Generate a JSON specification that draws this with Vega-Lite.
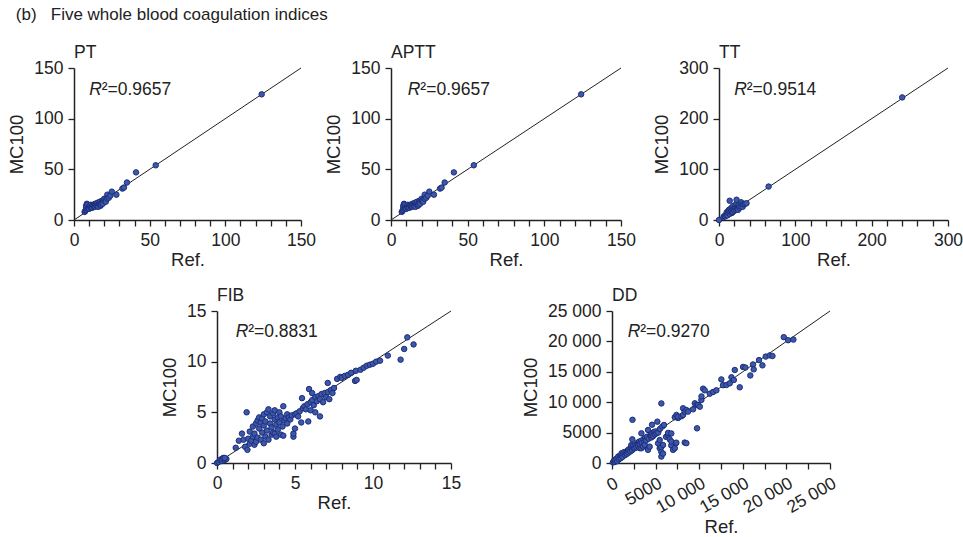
{
  "$schema": "https://vega.github.io/schema/vega-lite/v6.json",
  "padding": {"left": 7, "top": 5, "right": 5, "bottom": 2},
  "background": "white",
  "title": {"text": "(b)\u00a0\u00a0\u00a0Five whole blood coagulation indices", "anchor": "start", "frame": "bounds", "fontSize": 17, "fontWeight": "normal", "font": "Liberation Sans", "color": "#222", "dx": 8, "offset": 20},
  "config": {
    "view": {"stroke": null},
    "font": "Liberation Sans",
    "axis": {"grid": false, "domainColor": "#222", "domainWidth": 1.5, "tickColor": "#222", "tickWidth": 1.3, "tickSize": 6, "labelFont": "Liberation Sans", "labelFontSize": 17.5, "labelColor": "#222", "labelPadding": 5, "titleFont": "Liberation Sans", "titleFontSize": 18.5, "titleFontWeight": "normal", "titleColor": "#222", "labelOverlap": false, "labelFlush": false},
    "axisX": {"titlePadding": 2},
    "axisY": {"titlePadding": 7},
    "title": {"font": "Liberation Sans", "fontSize": 17.5, "fontWeight": "normal", "color": "#222", "anchor": "start", "frame": "group", "offset": -2}
  },
  "datasets": {
    "PT": [
      {"ref":7,"mc100":8},{"ref":7.5,"mc100":9},{"ref":8,"mc100":10},{"ref":8,"mc100":12},{"ref":8,"mc100":14},{"ref":8.5,"mc100":16},{"ref":9,"mc100":15},{"ref":9,"mc100":11},{"ref":9.5,"mc100":12},{"ref":10,"mc100":13},{"ref":10,"mc100":11},{"ref":10.5,"mc100":14},{"ref":11,"mc100":12},{"ref":11,"mc100":15},{"ref":11.5,"mc100":13},{"ref":12,"mc100":14},{"ref":12,"mc100":12},{"ref":12.5,"mc100":15},{"ref":13,"mc100":13},{"ref":13,"mc100":15},{"ref":13.5,"mc100":14},{"ref":14,"mc100":16},{"ref":14,"mc100":13},{"ref":14.5,"mc100":15},{"ref":15,"mc100":16},{"ref":15,"mc100":14},{"ref":15.5,"mc100":17},{"ref":16,"mc100":15},{"ref":16,"mc100":13},{"ref":16.5,"mc100":16},{"ref":17,"mc100":16},{"ref":17,"mc100":18},{"ref":17.5,"mc100":14},{"ref":18,"mc100":17},{"ref":18,"mc100":15},{"ref":18.5,"mc100":19},{"ref":19,"mc100":18},{"ref":19,"mc100":16},{"ref":20,"mc100":19},{"ref":20,"mc100":21},{"ref":21,"mc100":20},{"ref":21,"mc100":18},{"ref":22,"mc100":25},{"ref":22,"mc100":21},{"ref":23,"mc100":22},{"ref":24,"mc100":24},{"ref":25,"mc100":28},{"ref":28,"mc100":25},{"ref":32,"mc100":31},{"ref":33,"mc100":32},{"ref":35,"mc100":37},{"ref":41,"mc100":47},{"ref":54,"mc100":54},{"ref":124,"mc100":124}
    ],
    "TT": [
      {"ref":0,"mc100":0},{"ref":6,"mc100":6},{"ref":7,"mc100":8},{"ref":8,"mc100":7},{"ref":9,"mc100":10},{"ref":10,"mc100":12},{"ref":10,"mc100":15},{"ref":11,"mc100":9},{"ref":12,"mc100":14},{"ref":12,"mc100":18},{"ref":13,"mc100":20},{"ref":14,"mc100":38},{"ref":14,"mc100":12},{"ref":15,"mc100":16},{"ref":15,"mc100":22},{"ref":16,"mc100":18},{"ref":17,"mc100":14},{"ref":17,"mc100":25},{"ref":18,"mc100":20},{"ref":18,"mc100":16},{"ref":19,"mc100":22},{"ref":19,"mc100":28},{"ref":20,"mc100":18},{"ref":21,"mc100":24},{"ref":22,"mc100":20},{"ref":22,"mc100":30},{"ref":23,"mc100":40},{"ref":24,"mc100":26},{"ref":24,"mc100":22},{"ref":25,"mc100":28},{"ref":25,"mc100":20},{"ref":26,"mc100":30},{"ref":27,"mc100":24},{"ref":28,"mc100":27},{"ref":29,"mc100":35},{"ref":30,"mc100":30},{"ref":31,"mc100":26},{"ref":32,"mc100":31},{"ref":34,"mc100":32},{"ref":36,"mc100":33},{"ref":65,"mc100":66},{"ref":240,"mc100":242}
    ],
    "FIB": [
      {"ref":0,"mc100":0},{"ref":0.1,"mc100":0.1},{"ref":0.2,"mc100":0.3},{"ref":0.3,"mc100":0.2},{"ref":0.3,"mc100":0.4},{"ref":0.4,"mc100":0.5},{"ref":0.5,"mc100":0.3},{"ref":0.6,"mc100":0.4},{"ref":0.5,"mc100":0.5},
      {"ref":1.2,"mc100":1.5},{"ref":1.4,"mc100":2.2},{"ref":1.6,"mc100":2.9},{"ref":1.7,"mc100":2.3},{"ref":1.8,"mc100":1.6},{"ref":1.9,"mc100":5.0},{"ref":1.95,"mc100":1.3},{"ref":2.0,"mc100":2.4},{"ref":2.1,"mc100":1.9},{"ref":2.1,"mc100":3.1},{"ref":2.2,"mc100":2.2},{"ref":2.3,"mc100":2.6},{"ref":2.3,"mc100":3.6},{"ref":2.4,"mc100":1.8},{"ref":2.4,"mc100":2.9},{"ref":2.5,"mc100":3.9},{"ref":2.5,"mc100":2.1},{"ref":2.6,"mc100":4.2},{"ref":2.6,"mc100":2.5},{"ref":2.7,"mc100":3.4},{"ref":2.7,"mc100":4.5},{"ref":2.8,"mc100":2.3},{"ref":2.8,"mc100":4.0},{"ref":2.9,"mc100":3.0},{"ref":2.9,"mc100":4.4},{"ref":3.0,"mc100":1.95},{"ref":3.0,"mc100":3.7},{"ref":3.0,"mc100":4.8},{"ref":3.1,"mc100":2.6},{"ref":3.1,"mc100":4.1},{"ref":3.2,"mc100":3.2},{"ref":3.2,"mc100":5.0},{"ref":3.3,"mc100":5.3},{"ref":3.3,"mc100":2.3},{"ref":3.4,"mc100":3.9},{"ref":3.4,"mc100":4.6},{"ref":3.5,"mc100":2.8},{"ref":3.5,"mc100":3.5},{"ref":3.6,"mc100":4.9},{"ref":3.6,"mc100":3.0},{"ref":3.7,"mc100":4.3},{"ref":3.7,"mc100":5.2},{"ref":3.7,"mc100":2.9},{"ref":3.8,"mc100":2.6},{"ref":3.8,"mc100":3.8},{"ref":3.9,"mc100":4.5},{"ref":3.9,"mc100":3.3},{"ref":4.0,"mc100":5.0},{"ref":4.0,"mc100":4.0},{"ref":4.1,"mc100":4.6},{"ref":4.1,"mc100":2.8},{"ref":4.2,"mc100":3.6},{"ref":4.25,"mc100":5.6},{"ref":4.25,"mc100":2.7},{"ref":4.3,"mc100":4.2},{"ref":4.4,"mc100":4.4},{"ref":4.5,"mc100":3.9},{"ref":4.5,"mc100":4.8},{"ref":4.6,"mc100":4.5},{"ref":4.7,"mc100":4.3},{"ref":4.8,"mc100":4.7},{"ref":4.9,"mc100":2.6},{"ref":4.9,"mc100":2.9},{"ref":5.0,"mc100":3.4},{"ref":5.0,"mc100":4.8},{"ref":5.1,"mc100":4.9},{"ref":5.2,"mc100":4.6},{"ref":5.3,"mc100":5.1},{"ref":5.45,"mc100":6.4},{"ref":5.4,"mc100":4.0},{"ref":5.5,"mc100":5.4},{"ref":5.6,"mc100":5.6},{"ref":5.7,"mc100":5.3},{"ref":5.85,"mc100":4.1},{"ref":5.8,"mc100":5.8},{"ref":5.9,"mc100":7.3},{"ref":6.0,"mc100":6.0},{"ref":6.0,"mc100":5.2},{"ref":6.1,"mc100":6.2},{"ref":6.1,"mc100":6.9},{"ref":6.2,"mc100":5.7},{"ref":6.3,"mc100":6.5},{"ref":6.3,"mc100":5.0},{"ref":6.4,"mc100":6.1},{"ref":6.5,"mc100":6.6},{"ref":6.6,"mc100":4.6},{"ref":6.6,"mc100":6.3},{"ref":6.7,"mc100":6.8},{"ref":6.8,"mc100":6.0},{"ref":6.9,"mc100":6.9},{"ref":7.0,"mc100":6.5},{"ref":7.1,"mc100":7.9},{"ref":7.1,"mc100":7.0},{"ref":7.2,"mc100":6.3},{"ref":7.3,"mc100":7.2},{"ref":7.4,"mc100":6.9},{"ref":7.5,"mc100":7.4},{"ref":7.7,"mc100":8.3},{"ref":7.9,"mc100":8.5},{"ref":8.0,"mc100":8.4},{"ref":8.2,"mc100":8.6},{"ref":8.4,"mc100":8.7},{"ref":8.6,"mc100":8.9},{"ref":8.85,"mc100":8.1},{"ref":8.95,"mc100":8.2},{"ref":8.9,"mc100":9.1},{"ref":9.2,"mc100":9.2},{"ref":9.4,"mc100":9.4},{"ref":9.6,"mc100":9.6},{"ref":9.8,"mc100":9.7},{"ref":10.0,"mc100":9.8},{"ref":10.2,"mc100":10.0},{"ref":10.45,"mc100":10.1},{"ref":10.95,"mc100":10.6},{"ref":11.77,"mc100":10.2},{"ref":12.0,"mc100":11.25},{"ref":12.2,"mc100":12.4},{"ref":12.6,"mc100":11.7}
    ],
    "DD": [
      {"ref":100,"mc100":100},{"ref":200,"mc100":300},{"ref":300,"mc100":150},{"ref":300,"mc100":500},{"ref":400,"mc100":400},{"ref":500,"mc100":700},{"ref":600,"mc100":300},{"ref":700,"mc100":1050},{"ref":800,"mc100":600},{"ref":900,"mc100":1200},{"ref":1000,"mc100":800},{"ref":1070,"mc100":1320},{"ref":1100,"mc100":1600},{"ref":1200,"mc100":1000},{"ref":1300,"mc100":1500},{"ref":1400,"mc100":1800},{"ref":1500,"mc100":1300},{"ref":1600,"mc100":1700},{"ref":1700,"mc100":1500},{"ref":1800,"mc100":2000},{"ref":1840,"mc100":2140},{"ref":1900,"mc100":1700},{"ref":2000,"mc100":2300},{"ref":2100,"mc100":1900},{"ref":2200,"mc100":2600},{"ref":2220,"mc100":2960},{"ref":2300,"mc100":2100},{"ref":2330,"mc100":3890},{"ref":2350,"mc100":7100},{"ref":2400,"mc100":2800},{"ref":2500,"mc100":2400},{"ref":2600,"mc100":2420},{"ref":2700,"mc100":3000},{"ref":2800,"mc100":2600},{"ref":2900,"mc100":3300},{"ref":2980,"mc100":3230},{"ref":3000,"mc100":2800},{"ref":3100,"mc100":3500},{"ref":3170,"mc100":2440},{"ref":3200,"mc100":3100},{"ref":3300,"mc100":3600},{"ref":3370,"mc100":2420},{"ref":3370,"mc100":4880},{"ref":3400,"mc100":3300},{"ref":3550,"mc100":2710},{"ref":3600,"mc100":3900},{"ref":3700,"mc100":3400},{"ref":3750,"mc100":2960},{"ref":3800,"mc100":4100},{"ref":3900,"mc100":3700},{"ref":4000,"mc100":4300},{"ref":4100,"mc100":2300},{"ref":4130,"mc100":5430},{"ref":4130,"mc100":2160},{"ref":4200,"mc100":4000},{"ref":4320,"mc100":2690},{"ref":4400,"mc100":4600},{"ref":4500,"mc100":4200},{"ref":4510,"mc100":4600},{"ref":4590,"mc100":6300},{"ref":4600,"mc100":4900},{"ref":4700,"mc100":4400},{"ref":4800,"mc100":5100},{"ref":4900,"mc100":4700},{"ref":5000,"mc100":5200},{"ref":5100,"mc100":4870},{"ref":5200,"mc100":6800},{"ref":5280,"mc100":3230},{"ref":5300,"mc100":5000},{"ref":5470,"mc100":3780},{"ref":5470,"mc100":2440},{"ref":5500,"mc100":5600},{"ref":5660,"mc100":9800},{"ref":5660,"mc100":2630},{"ref":5660,"mc100":1810},{"ref":5660,"mc100":1050},{"ref":5770,"mc100":6000},{"ref":5850,"mc100":1550},{"ref":5850,"mc100":2960},{"ref":5960,"mc100":6250},{"ref":6200,"mc100":4300},{"ref":6420,"mc100":4590},{"ref":6430,"mc100":4950},{"ref":6620,"mc100":3890},{"ref":6800,"mc100":4860},{"ref":6800,"mc100":2890},{"ref":6810,"mc100":3540},{"ref":7000,"mc100":2160},{"ref":7200,"mc100":2440},{"ref":7310,"mc100":3260},{"ref":7380,"mc100":3340},{"ref":7200,"mc100":7520},{"ref":7390,"mc100":7900},{"ref":7580,"mc100":7400},{"ref":7570,"mc100":7630},{"ref":7960,"mc100":7680},{"ref":8150,"mc100":7900},{"ref":8150,"mc100":9000},{"ref":8340,"mc100":8450},{"ref":8340,"mc100":3360},{"ref":8530,"mc100":8720},{"ref":8530,"mc100":3260},{"ref":8720,"mc100":8450},{"ref":9300,"mc100":8830},{"ref":9500,"mc100":9820},{"ref":9690,"mc100":9550},{"ref":9750,"mc100":5700},{"ref":9870,"mc100":9550},{"ref":10070,"mc100":9270},{"ref":10250,"mc100":10360},{"ref":10260,"mc100":10950},{"ref":10450,"mc100":12230},{"ref":10640,"mc100":11950},{"ref":11210,"mc100":11400},{"ref":11590,"mc100":11680},{"ref":11970,"mc100":11950},{"ref":12540,"mc100":13750},{"ref":12730,"mc100":12800},{"ref":13120,"mc100":12830},{"ref":13500,"mc100":13100},{"ref":13700,"mc100":14100},{"ref":13970,"mc100":13650},{"ref":14080,"mc100":15300},{"ref":14650,"mc100":12450},{"ref":15030,"mc100":15800},{"ref":15300,"mc100":15700},{"ref":15860,"mc100":14400},{"ref":16170,"mc100":16200},{"ref":16250,"mc100":15400},{"ref":16860,"mc100":16930},{"ref":17250,"mc100":16060},{"ref":17630,"mc100":17500},{"ref":18100,"mc100":17700},{"ref":18400,"mc100":17600},{"ref":19700,"mc100":20700},{"ref":20200,"mc100":20200},{"ref":20800,"mc100":20300}
    ],
    "diag150": [{"ref":0,"mc100":0},{"ref":150,"mc100":150}],
    "diag300": [{"ref":0,"mc100":0},{"ref":300,"mc100":300}],
    "diag15": [{"ref":0,"mc100":0},{"ref":15,"mc100":15}],
    "diag25000": [{"ref":0,"mc100":0},{"ref":25000,"mc100":25000}],
    "lblPT": [{"r": "R", "rest": "\u00b2=0.9657"}],
    "lblTT": [{"r": "R", "rest": "\u00b2=0.9514"}],
    "lblFIB": [{"r": "R", "rest": "\u00b2=0.8831"}],
    "lblDD": [{"r": "R", "rest": "\u00b2=0.9270"}],
    "none": []
  },
  "vconcat": [
    {
      "hconcat": [
        {
          "width": 227, "height": 152,
          "title": "PT",
          "layer": [
            {"data": {"name": "diag150"}, "mark": {"type": "line", "color": "#222", "strokeWidth": 1},
             "encoding": {
               "x": {"field": "ref", "type": "quantitative", "title": "Ref.", "scale": {"domain": [0,150], "nice": false}, "axis": {"labelOverlap": false, "values": [0,10,20,30,40,50,60,70,80,90,100,110,120,130,140,150], "labelExpr": "datum.value % 50 === 0 ? datum.label : ''"}},
               "y": {"field": "mc100", "type": "quantitative", "title": "MC100", "scale": {"domain": [0,150], "nice": false}, "axis": {"labelOverlap": false, "values": [0,50,100,150]}}
             }},
            {"data": {"name": "PT"}, "mark": {"type": "circle", "size": 30, "fill": "#3d58a8", "stroke": "#1c2e7c", "strokeWidth": 1, "opacity": 1},
             "encoding": {
               "x": {"field": "ref", "type": "quantitative", "title": "Ref.", "axis": {"labelOverlap": false, "values": [0,10,20,30,40,50,60,70,80,90,100,110,120,130,140,150], "labelExpr": "datum.value % 50 === 0 ? datum.label : ''"}},
               "y": {"field": "mc100", "type": "quantitative", "title": "MC100", "axis": {"labelOverlap": false, "values": [0,50,100,150]}}
             }},
            {"data": {"name": "lblPT"}, "mark": {"type": "text", "fontStyle": "italic", "fontSize": 17.5, "align": "left", "baseline": "middle", "color": "#222"},
             "encoding": {
               "x": {"datum": 10, "type": "quantitative", "title": "Ref.", "axis": {"labelOverlap": false, "values": [0,10,20,30,40,50,60,70,80,90,100,110,120,130,140,150], "labelExpr": "datum.value % 50 === 0 ? datum.label : ''"}},
               "y": {"datum": 128, "type": "quantitative", "title": "MC100", "axis": {"labelOverlap": false, "values": [0,50,100,150]}},
               "text": {"field": "r"}}},
            {"data": {"name": "lblPT"}, "mark": {"type": "text", "fontSize": 17.5, "align": "left", "baseline": "middle", "dx": 12.5, "color": "#222"},
             "encoding": {
               "x": {"datum": 10, "type": "quantitative", "title": "Ref.", "axis": {"labelOverlap": false, "values": [0,10,20,30,40,50,60,70,80,90,100,110,120,130,140,150], "labelExpr": "datum.value % 50 === 0 ? datum.label : ''"}},
               "y": {"datum": 128, "type": "quantitative", "title": "MC100", "axis": {"labelOverlap": false, "values": [0,50,100,150]}},
               "text": {"field": "rest"}}}
          ]
        },
        {
          "hconcat": [
            {
              "width": 230, "height": 152,
              "title": "APTT",
              "layer": [
                {"data": {"name": "diag150"}, "mark": {"type": "line", "color": "#222", "strokeWidth": 1},
                 "encoding": {
                   "x": {"field": "ref", "type": "quantitative", "title": "Ref.", "scale": {"domain": [0,150], "nice": false}, "axis": {"labelOverlap": false, "values": [0,10,20,30,40,50,60,70,80,90,100,110,120,130,140,150], "labelExpr": "datum.value % 50 === 0 ? datum.label : ''"}},
                   "y": {"field": "mc100", "type": "quantitative", "title": "MC100", "scale": {"domain": [0,150], "nice": false}, "axis": {"labelOverlap": false, "values": [0,50,100,150]}}
                 }},
                {"data": {"name": "PT"}, "mark": {"type": "circle", "size": 30, "fill": "#3d58a8", "stroke": "#1c2e7c", "strokeWidth": 1, "opacity": 1},
                 "encoding": {
                   "x": {"field": "ref", "type": "quantitative", "title": "Ref.", "axis": {"labelOverlap": false, "values": [0,10,20,30,40,50,60,70,80,90,100,110,120,130,140,150], "labelExpr": "datum.value % 50 === 0 ? datum.label : ''"}},
                   "y": {"field": "mc100", "type": "quantitative", "title": "MC100", "axis": {"labelOverlap": false, "values": [0,50,100,150]}}
                 }},
                {"data": {"name": "lblPT"}, "mark": {"type": "text", "fontStyle": "italic", "fontSize": 17.5, "align": "left", "baseline": "middle", "color": "#222"},
                 "encoding": {
                   "x": {"datum": 11, "type": "quantitative", "title": "Ref.", "axis": {"labelOverlap": false, "values": [0,10,20,30,40,50,60,70,80,90,100,110,120,130,140,150], "labelExpr": "datum.value % 50 === 0 ? datum.label : ''"}},
                   "y": {"datum": 128, "type": "quantitative", "title": "MC100", "axis": {"labelOverlap": false, "values": [0,50,100,150]}},
                   "text": {"field": "r"}}},
                {"data": {"name": "lblPT"}, "mark": {"type": "text", "fontSize": 17.5, "align": "left", "baseline": "middle", "dx": 12.5, "color": "#222"},
                 "encoding": {
                   "x": {"datum": 11, "type": "quantitative", "title": "Ref.", "axis": {"labelOverlap": false, "values": [0,10,20,30,40,50,60,70,80,90,100,110,120,130,140,150], "labelExpr": "datum.value % 50 === 0 ? datum.label : ''"}},
                   "y": {"datum": 128, "type": "quantitative", "title": "MC100", "axis": {"labelOverlap": false, "values": [0,50,100,150]}},
                   "text": {"field": "rest"}}}
              ]
            },
            {
              "width": 229, "height": 152,
              "title": "TT",
              "layer": [
                {"data": {"name": "diag300"}, "mark": {"type": "line", "color": "#222", "strokeWidth": 1},
                 "encoding": {
                   "x": {"field": "ref", "type": "quantitative", "title": "Ref.", "scale": {"domain": [0,300], "nice": false}, "axis": {"labelOverlap": false, "values": [0,20,40,60,80,100,120,140,160,180,200,220,240,260,280,300], "labelExpr": "datum.value % 100 === 0 ? datum.label : ''"}},
                   "y": {"field": "mc100", "type": "quantitative", "title": "MC100", "scale": {"domain": [0,300], "nice": false}, "axis": {"labelOverlap": false, "values": [0,100,200,300]}}
                 }},
                {"data": {"name": "TT"}, "mark": {"type": "circle", "size": 30, "fill": "#3d58a8", "stroke": "#1c2e7c", "strokeWidth": 1, "opacity": 1},
                 "encoding": {
                   "x": {"field": "ref", "type": "quantitative", "title": "Ref.", "axis": {"labelOverlap": false, "values": [0,20,40,60,80,100,120,140,160,180,200,220,240,260,280,300], "labelExpr": "datum.value % 100 === 0 ? datum.label : ''"}},
                   "y": {"field": "mc100", "type": "quantitative", "title": "MC100", "axis": {"labelOverlap": false, "values": [0,100,200,300]}}
                 }},
                {"data": {"name": "lblTT"}, "mark": {"type": "text", "fontStyle": "italic", "fontSize": 17.5, "align": "left", "baseline": "middle", "color": "#222"},
                 "encoding": {
                   "x": {"datum": 20, "type": "quantitative", "title": "Ref.", "axis": {"labelOverlap": false, "values": [0,20,40,60,80,100,120,140,160,180,200,220,240,260,280,300], "labelExpr": "datum.value % 100 === 0 ? datum.label : ''"}},
                   "y": {"datum": 257, "type": "quantitative", "title": "MC100", "axis": {"labelOverlap": false, "values": [0,100,200,300]}},
                   "text": {"field": "r"}}},
                {"data": {"name": "lblTT"}, "mark": {"type": "text", "fontSize": 17.5, "align": "left", "baseline": "middle", "dx": 12.5, "color": "#222"},
                 "encoding": {
                   "x": {"datum": 20, "type": "quantitative", "title": "Ref.", "axis": {"labelOverlap": false, "values": [0,20,40,60,80,100,120,140,160,180,200,220,240,260,280,300], "labelExpr": "datum.value % 100 === 0 ? datum.label : ''"}},
                   "y": {"datum": 257, "type": "quantitative", "title": "MC100", "axis": {"labelOverlap": false, "values": [0,100,200,300]}},
                   "text": {"field": "rest"}}}
              ]
            }
          ],
          "spacing": 16
        }
      ],
      "spacing": 8
    },
    {
      "hconcat": [
        {"width": 86, "height": 10, "data": {"name": "none"}, "mark": "point", "encoding": {}},
        {
          "hconcat": [
            {
              "width": 234, "height": 152,
              "title": "FIB",
              "layer": [
                {"data": {"name": "diag15"}, "mark": {"type": "line", "color": "#222", "strokeWidth": 1},
                 "encoding": {
                   "x": {"field": "ref", "type": "quantitative", "title": "Ref.", "scale": {"domain": [0,15], "nice": false}, "axis": {"labelOverlap": false, "values": [0,1,2,3,4,5,6,7,8,9,10,11,12,13,14,15], "labelExpr": "datum.value % 5 === 0 ? datum.label : ''"}},
                   "y": {"field": "mc100", "type": "quantitative", "title": "MC100", "scale": {"domain": [0,15], "nice": false}, "axis": {"labelOverlap": false, "values": [0,5,10,15]}}
                 }},
                {"data": {"name": "FIB"}, "mark": {"type": "circle", "size": 30, "fill": "#3d58a8", "stroke": "#1c2e7c", "strokeWidth": 1, "opacity": 1},
                 "encoding": {
                   "x": {"field": "ref", "type": "quantitative", "title": "Ref.", "axis": {"labelOverlap": false, "values": [0,1,2,3,4,5,6,7,8,9,10,11,12,13,14,15], "labelExpr": "datum.value % 5 === 0 ? datum.label : ''"}},
                   "y": {"field": "mc100", "type": "quantitative", "title": "MC100", "axis": {"labelOverlap": false, "values": [0,5,10,15]}}
                 }},
                {"data": {"name": "lblFIB"}, "mark": {"type": "text", "fontStyle": "italic", "fontSize": 17.5, "align": "left", "baseline": "middle", "color": "#222"},
                 "encoding": {
                   "x": {"datum": 1.2, "type": "quantitative", "title": "Ref.", "axis": {"labelOverlap": false, "values": [0,1,2,3,4,5,6,7,8,9,10,11,12,13,14,15], "labelExpr": "datum.value % 5 === 0 ? datum.label : ''"}},
                   "y": {"datum": 12.95, "type": "quantitative", "title": "MC100", "axis": {"labelOverlap": false, "values": [0,5,10,15]}},
                   "text": {"field": "r"}}},
                {"data": {"name": "lblFIB"}, "mark": {"type": "text", "fontSize": 17.5, "align": "left", "baseline": "middle", "dx": 12.5, "color": "#222"},
                 "encoding": {
                   "x": {"datum": 1.2, "type": "quantitative", "title": "Ref.", "axis": {"labelOverlap": false, "values": [0,1,2,3,4,5,6,7,8,9,10,11,12,13,14,15], "labelExpr": "datum.value % 5 === 0 ? datum.label : ''"}},
                   "y": {"datum": 12.95, "type": "quantitative", "title": "MC100", "axis": {"labelOverlap": false, "values": [0,5,10,15]}},
                   "text": {"field": "rest"}}}
              ]
            },
            {
              "width": 218, "height": 152,
              "title": "DD",
              "layer": [
                {"data": {"name": "diag25000"}, "mark": {"type": "line", "color": "#222", "strokeWidth": 1},
                 "encoding": {
                   "x": {"field": "ref", "type": "quantitative", "title": "Ref.", "scale": {"domain": [0,25000], "nice": false}, "axis": {"labelOverlap": false, "values": [0,2500,5000,7500,10000,12500,15000,17500,20000,22500,25000], "labelExpr": "datum.value % 5000 === 0 ? (datum.value >= 10000 ? floor(datum.value/1000) + ' 000' : '' + datum.value) : ''", "labelAngle": -30, "labelAlign": "right", "labelBaseline": "top"}},
                   "y": {"field": "mc100", "type": "quantitative", "title": "MC100", "scale": {"domain": [0,25000], "nice": false}, "axis": {"labelOverlap": false, "values": [0,5000,10000,15000,20000,25000], "labelExpr": "datum.value >= 10000 ? floor(datum.value/1000) + ' 000' : '' + datum.value"}}
                 }},
                {"data": {"name": "DD"}, "mark": {"type": "circle", "size": 30, "fill": "#3d58a8", "stroke": "#1c2e7c", "strokeWidth": 1, "opacity": 1},
                 "encoding": {
                   "x": {"field": "ref", "type": "quantitative", "title": "Ref.", "axis": {"labelOverlap": false, "values": [0,2500,5000,7500,10000,12500,15000,17500,20000,22500,25000], "labelExpr": "datum.value % 5000 === 0 ? (datum.value >= 10000 ? floor(datum.value/1000) + ' 000' : '' + datum.value) : ''", "labelAngle": -30, "labelAlign": "right", "labelBaseline": "top"}},
                   "y": {"field": "mc100", "type": "quantitative", "title": "MC100", "axis": {"labelOverlap": false, "values": [0,5000,10000,15000,20000,25000], "labelExpr": "datum.value >= 10000 ? floor(datum.value/1000) + ' 000' : '' + datum.value"}}
                 }},
                {"data": {"name": "lblDD"}, "mark": {"type": "text", "fontStyle": "italic", "fontSize": 17.5, "align": "left", "baseline": "middle", "color": "#222"},
                 "encoding": {
                   "x": {"datum": 1800, "type": "quantitative", "title": "Ref.", "axis": {"labelOverlap": false, "values": [0,2500,5000,7500,10000,12500,15000,17500,20000,22500,25000], "labelExpr": "datum.value % 5000 === 0 ? (datum.value >= 10000 ? floor(datum.value/1000) + ' 000' : '' + datum.value) : ''", "labelAngle": -30, "labelAlign": "right", "labelBaseline": "top"}},
                   "y": {"datum": 21600, "type": "quantitative", "title": "MC100", "axis": {"labelOverlap": false, "values": [0,5000,10000,15000,20000,25000], "labelExpr": "datum.value >= 10000 ? floor(datum.value/1000) + ' 000' : '' + datum.value"}},
                   "text": {"field": "r"}}},
                {"data": {"name": "lblDD"}, "mark": {"type": "text", "fontSize": 17.5, "align": "left", "baseline": "middle", "dx": 12.5, "color": "#222"},
                 "encoding": {
                   "x": {"datum": 1800, "type": "quantitative", "title": "Ref.", "axis": {"labelOverlap": false, "values": [0,2500,5000,7500,10000,12500,15000,17500,20000,22500,25000], "labelExpr": "datum.value % 5000 === 0 ? (datum.value >= 10000 ? floor(datum.value/1000) + ' 000' : '' + datum.value) : ''", "labelAngle": -30, "labelAlign": "right", "labelBaseline": "top"}},
                   "y": {"datum": 21600, "type": "quantitative", "title": "MC100", "axis": {"labelOverlap": false, "values": [0,5000,10000,15000,20000,25000], "labelExpr": "datum.value >= 10000 ? floor(datum.value/1000) + ' 000' : '' + datum.value"}},
                   "text": {"field": "rest"}}}
              ]
            }
          ],
          "spacing": 60
        }
      ],
      "spacing": 0
    }
  ],
  "spacing": 17
}
